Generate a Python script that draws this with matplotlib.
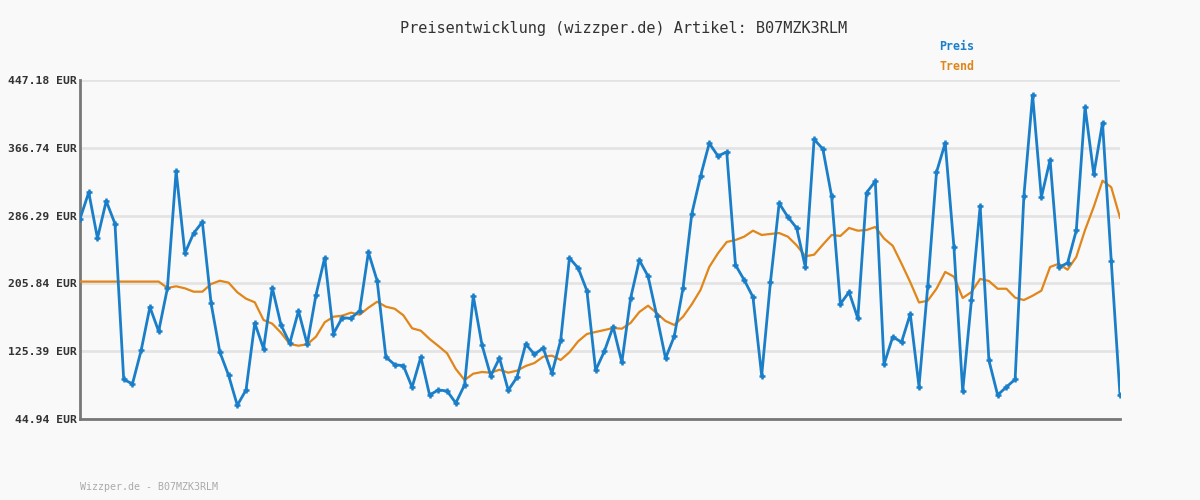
import matplotlib
matplotlib.use("Agg")
import matplotlib.pyplot as plt

# price history (EUR)
preis = [282.3, 313.9, 259.4, 303.6, 276.7, 92.0, 86.5, 126.5, 177.8, 149.0,
         200.0, 339.2, 241.6, 265.3, 278.7, 182.2, 124.4, 96.8, 61.2, 79.4,
         158.8, 128.4, 200.7, 156.5, 134.8, 173.1, 133.6, 192.1, 236.3, 146.2,
         165.1, 164.4, 173.4, 242.7, 209.0, 118.5, 109.4, 108.2, 82.6, 118.5,
         73.4, 79.4, 78.2, 63.9, 85.3, 190.9, 132.7, 96.0, 117.3, 79.0,
         94.4, 133.9, 121.7, 129.2, 99.2, 138.3, 236.0, 224.1, 197.2, 102.7,
         125.3, 154.5, 112.2, 188.2, 233.4, 214.3, 167.2, 117.0, 143.1, 200.4,
         288.2, 332.9, 372.1, 357.0, 361.8, 227.7, 209.9, 189.7, 96.3, 207.1,
         300.9, 284.6, 271.6, 224.9, 376.8, 365.3, 309.5, 181.4, 195.6, 164.4,
         313.5, 327.0, 109.8, 142.5, 136.1, 169.5, 83.5, 202.4, 337.7, 372.4,
         248.7, 77.8, 186.1, 297.7, 114.6, 73.4, 82.9, 92.0, 309.2, 429.4,
         308.0, 352.3, 224.9, 230.0, 268.8, 415.1, 335.3, 396.5, 232.1, 73.1]

trend = [208.0, 208.0, 208.0, 208.0, 208.0, 208.0, 208.0, 208.0, 208.0, 208.0,
         200.4, 202.4, 200.0, 196.0, 196.0, 205.1, 209.0, 206.7, 195.3, 187.7,
         183.4, 162.4, 158.0, 147.3, 133.9, 131.9, 133.6, 142.6, 159.7, 166.3,
         167.5, 171.1, 168.7, 177.0, 184.1, 178.2, 175.8, 168.0, 152.6, 149.7,
         139.9, 131.6, 122.9, 104.3, 91.2, 98.7, 100.7, 99.9, 103.4, 99.9,
         102.3, 107.8, 111.4, 118.9, 120.1, 115.0, 124.1, 137.1, 145.8, 148.2,
         150.5, 152.9, 152.1, 158.9, 171.9, 179.4, 170.4, 161.2, 156.5, 166.3,
         181.0, 198.0, 225.3, 241.6, 255.0, 257.3, 261.3, 268.4, 263.3, 264.5,
         265.6, 261.3, 251.0, 238.0, 239.9, 251.8, 263.3, 262.1, 271.6, 268.4,
         269.2, 272.8, 259.1, 250.4, 229.3, 207.3, 183.2, 185.3, 199.5, 219.4,
         213.8, 188.5, 195.6, 211.1, 208.7, 199.5, 199.5, 188.9, 186.1, 191.2,
         197.2, 225.3, 229.2, 222.1, 237.2, 269.2, 296.8, 327.7, 319.9, 283.8]

y_ticks = [44.94, 125.39, 205.84, 286.29, 366.74, 447.18]
artikel = "B07MZK3RLM"

BG = "#f9f9f9"
BLUE = "#1a7fc8"
ORANGE = "#e0861a"
MONO = "DejaVu Sans Mono"

fig = plt.figure(figsize=(12, 5), dpi=100, facecolor=BG)
ax = fig.add_axes([80 / 1200, 1 - 419 / 500, 1040 / 1200, 339 / 500], facecolor=BG)

x = list(range(len(preis)))
ax.plot(x, trend, color=ORANGE, lw=1.6, zorder=3)
ax.plot(x, preis, color=BLUE, lw=2.0, marker="+", markersize=4,
        markeredgewidth=1.8, zorder=4)

ax.set_xlim(0, len(preis) - 1)
ax.set_ylim(y_ticks[0], y_ticks[-1])
ax.set_yticks(y_ticks)
ax.set_yticklabels(["%.2f EUR" % v for v in y_ticks], fontfamily=MONO,
                   fontsize=8.2, color="#333333", fontweight="bold")
ax.set_xticks([])
ax.tick_params(axis="y", length=0, pad=2)
ax.grid(axis="y", color="#e4e4e4", lw=2)
ax.set_axisbelow(True)

for s in ["top", "right"]:
    ax.spines[s].set_visible(False)
for s in ["left", "bottom"]:
    ax.spines[s].set_color("#777777")
    ax.spines[s].set_linewidth(2)

fig.text(624 / 1200, 1 - 28 / 500,
         "Preisentwicklung (wizzper.de) Artikel: " + artikel,
         ha="center", va="center", fontfamily=MONO, fontsize=11, color="#333333")
fig.text(939 / 1200, 1 - 47 / 500, "Preis", ha="left", va="center",
         fontfamily=MONO, fontsize=8.4, color=BLUE, fontweight="bold")
fig.text(939 / 1200, 1 - 67 / 500, "Trend", ha="left", va="center",
         fontfamily=MONO, fontsize=8.4, color=ORANGE, fontweight="bold")
fig.text(80 / 1200, 1 - 487 / 500, "Wizzper.de - " + artikel, ha="left",
         va="center", fontfamily=MONO, fontsize=7.2, color="#aaaaaa")

fig.savefig("out.png", dpi=100, facecolor=BG)
